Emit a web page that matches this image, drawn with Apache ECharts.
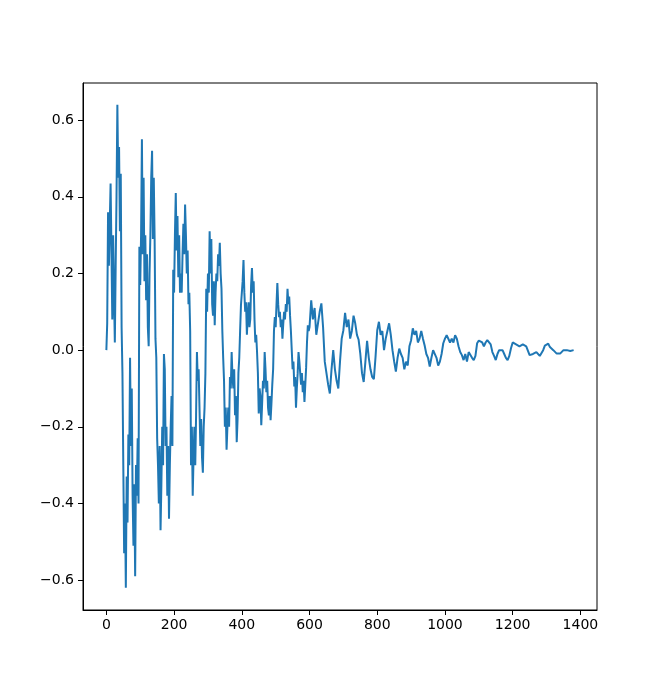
<!DOCTYPE html>
<html>
<head>
<meta charset="utf-8">
<script src="https://cdn.jsdelivr.net/npm/echarts@6/dist/echarts.min.js"></script>
<style>
  html, body { margin: 0; padding: 0; background: #fff; }
  #chart { width: 662px; height: 686px; }
</style>
</head>
<body>
<div id="chart"></div>
<script>
// values, x = 0 .. 297.5 (every 2.5)
const early0 = [
  0.00, 0.07, 0.36, 0.22, 0.33, 0.435, 0.26, 0.08, 0.30, 0.15, 0.02, 0.22, 0.40, 0.64, 0.45, 0.53, 0.31, 0.46, 0.06, -0.06,
  -0.30, -0.53, -0.40, -0.62, -0.33, -0.45, -0.22, -0.30, -0.02, -0.25, -0.10, -0.38, -0.51, -0.35, -0.59, -0.30, -0.38, -0.23, -0.40, 0.27,
  0.17, 0.30, 0.55, 0.25, 0.45, 0.18, 0.30, 0.13, 0.25, 0.06, 0.01, 0.20, 0.30, 0.45, 0.52, 0.29, 0.45, 0.29, 0.03, -0.02,
  -0.23, -0.30, -0.40, -0.25, -0.47, -0.35, -0.20, -0.30, -0.01, -0.05, -0.25, -0.20, -0.38, -0.25, -0.44, -0.30, -0.20, -0.12, -0.25, 0.21,
  0.15, 0.30, 0.41, 0.26, 0.35, 0.19, 0.30, 0.15, 0.20, 0.15, 0.25, 0.33, 0.25, 0.38, 0.30, 0.20, 0.26, 0.12, 0.15, 0.05,
  -0.30, -0.20, -0.38, -0.28, -0.20, -0.30, -0.17, -0.005, -0.08, -0.05, -0.15, -0.25, -0.18, -0.28, -0.32, -0.20, -0.15, -0.06, 0.16, 0.10
];
// x = 300 .. 597.5 (every 2.5)
const early1 = [
  0.20, 0.15, 0.31, 0.20, 0.29, 0.12, 0.09, 0.18, 0.065, 0.15, 0.20, 0.18, 0.25, 0.22, 0.28, 0.20, 0.16, 0.05, -0.02, -0.08,
  -0.20, -0.15, -0.26, -0.20, -0.15, -0.20, -0.07, -0.10, -0.005, -0.07, -0.10, -0.05, -0.17, -0.12, -0.24, -0.18, -0.06, -0.02, 0.05, 0.117,
  0.12, 0.18, 0.235, 0.15, 0.10, 0.125, 0.04, 0.09, 0.125, 0.06, 0.08, 0.17, 0.214, 0.15, 0.18, 0.08, 0.02, 0.04, -0.005, -0.06,
  -0.165, -0.10, -0.12, -0.196, -0.14, -0.08, -0.10, -0.005, -0.05, -0.11, -0.08, -0.15, -0.17, -0.12, -0.183, -0.14, -0.09, -0.05, 0.05, 0.086,
  0.06, 0.12, 0.175, 0.12, 0.086, 0.10, 0.06, 0.08, 0.03, 0.07, 0.10, 0.08, 0.12, 0.10, 0.16, 0.12, 0.14, 0.09, 0.05, 0.0,
  -0.05, -0.03, -0.095, -0.07, -0.15, -0.10, -0.06, -0.005, -0.03, -0.06, -0.09, -0.06, -0.11, -0.08, -0.135, -0.09, -0.045, 0.02, 0.065, 0.05
];
// x = 600 .. 895 (every 5)
const late0 = [
  0.06, 0.13, 0.08, 0.11, 0.04, 0.07, 0.10, 0.122, 0.06, -0.03,
  -0.06, -0.09, -0.113, -0.05, 0.00, -0.05, -0.08, -0.10, -0.03, 0.03,
  0.052, 0.097, 0.06, 0.08, 0.03, 0.05, 0.09, 0.07, 0.04, 0.027,
  -0.01, -0.06, -0.083, -0.03, 0.024, -0.02, -0.05, -0.07, -0.076, -0.017,
  0.052, 0.074, 0.04, 0.05, 0.00, 0.03, 0.05, 0.07, 0.04, 0.00,
  -0.03, -0.056, -0.02, 0.004, -0.01, -0.02, -0.05, -0.03, -0.04, 0.01
];
// x = 900 .. 1195 (every 5)
const late1 = [
  0.026, 0.057, 0.04, 0.05, 0.02, 0.03, 0.05, 0.03, 0.012, -0.01,
  -0.02, -0.043, -0.02, 0.0, 0.004, -0.02, -0.04, -0.03, -0.01, 0.018,
  0.03, 0.039, 0.035, 0.02, 0.03, 0.02, 0.039, 0.03, 0.01, -0.005,
  -0.013, -0.026, -0.01, -0.03, -0.005, -0.01, -0.02, -0.026, -0.015, 0.018,
  0.025, 0.03, 0.02, 0.01, 0.02, 0.026, 0.03, 0.015, -0.005, -0.015,
  -0.026, -0.01, 0.0, -0.005, 0.0, -0.01, -0.02, -0.026, -0.015, 0.005
];
// x = 1200 .. 1380 (every 5)
const late2 = [
  0.02, 0.02, 0.015, 0.015, 0.01, 0.005, 0.015, 0.019, 0.01, 0.005,
  -0.013, -0.018, -0.01, -0.005, -0.005, -0.01, -0.015, -0.012, 0.0, 0.012,
  0.01, 0.017, 0.008, 0.012, 0.0, -0.005, -0.009, -0.008, -0.009, -0.005,
  0.0, -0.003, 0.0, -0.005, -0.002, 0.0, 0.0
];

const earlyStep = 2.5;
const lateStart = 600;
const lateStep = 5;

const xTicks = [0, 200, 400, 600, 800, 1000, 1200, 1400];
const yTicks = [-0.6, -0.4, -0.2, 0.0, 0.2, 0.4, 0.6];

const earlyVals = [].concat(early0, early1);
const lateVals = [].concat(late0, late1, late2);
const seriesData = earlyVals.map((v, i) => [i * earlyStep, v])
  .concat(lateVals.map((v, i) => [lateStart + i * lateStep, v]));

const font = 'DejaVu Sans';
const chart = echarts.init(document.getElementById('chart'), null, { renderer: 'canvas' });
chart.setOption({
  animation: false,
  backgroundColor: '#ffffff',
  grid: {
    left: 83, right: 65, top: 83, bottom: 76,
    show: true, borderColor: '#000', borderWidth: 1, backgroundColor: 'transparent'
  },
  xAxis: {
    type: 'value',
    min: -69, max: 1449,
    axisLine: { show: true, onZero: false, lineStyle: { color: '#000', width: 1 } },
    axisTick: { show: true, customValues: xTicks, length: 5, inside: false, lineStyle: { color: '#000', width: 1 } },
    axisLabel: { show: true, customValues: xTicks, margin: 8, color: '#000', fontSize: 14, fontFamily: font,
      formatter: v => String(v) },
    splitLine: { show: false }
  },
  yAxis: {
    type: 'value',
    min: -0.678, max: 0.697,
    axisLine: { show: true, onZero: false, lineStyle: { color: '#000', width: 1 } },
    axisTick: { show: true, customValues: yTicks, length: 5, inside: false, lineStyle: { color: '#000', width: 1 } },
    axisLabel: { show: true, customValues: yTicks, margin: 9, color: '#000', fontSize: 14, fontFamily: font,
      formatter: v => (v < -1e-9 ? '\u2212' : '') + Math.abs(v).toFixed(1) },
    splitLine: { show: false }
  },
  series: [{
    type: 'line',
    data: seriesData,
    showSymbol: false,
    symbol: 'none',
    lineStyle: { color: '#1f77b4', width: 2 },
    itemStyle: { color: '#1f77b4' }
  }]
});
</script>
</body>
</html>
